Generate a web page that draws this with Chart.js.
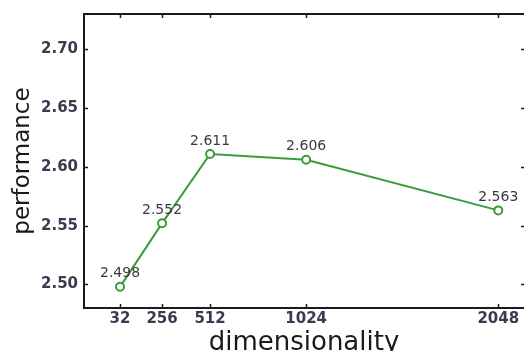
<!DOCTYPE html>
<html>
<head>
<meta charset="utf-8">
<script src="https://cdn.jsdelivr.net/npm/chart.js@4"></script>
<style>
html,body{margin:0;padding:0;background:#fff;}
#wrap{width:524px;height:351px;position:relative;}
</style>
</head>
<body>
<div id="wrap"><canvas id="c" width="524" height="351"></canvas></div>
<script>
const dims = [32, 256, 512, 1024, 2048];
const performance = [2.498, 2.552, 2.611, 2.606, 2.563];
const xTicks = [32, 256, 512, 1024, 2048];
const yTicks = [2.50, 2.55, 2.60, 2.65, 2.70];

const points = dims.map((d, i) => ({x: d, y: performance[i]}));

const frameAndTicks = {
  id: 'frameAndTicks',
  afterDraw(chart) {
    const ctx = chart.ctx;
    const a = chart.chartArea;
    const xs = chart.scales.x, ys = chart.scales.y;
    ctx.save();
    ctx.strokeStyle = '#1a1a1a';
    ctx.lineWidth = 2;
    ctx.beginPath();
    ctx.moveTo(a.right + 2, a.top);
    ctx.lineTo(a.left, a.top);
    ctx.lineTo(a.left, a.bottom);
    ctx.lineTo(a.right + 2, a.bottom);
    ctx.stroke();
    ctx.lineWidth = 1.5;
    ctx.beginPath();
    xTicks.forEach(v => {
      const px = Math.round(xs.getPixelForValue(v)) + 0.5;
      ctx.moveTo(px, a.bottom); ctx.lineTo(px, a.bottom - 4);
      ctx.moveTo(px, a.top); ctx.lineTo(px, a.top + 4);
    });
    yTicks.forEach(v => {
      const py = Math.round(ys.getPixelForValue(v)) + 0.5;
      ctx.moveTo(a.left, py); ctx.lineTo(a.left + 4, py);
      ctx.moveTo(a.right, py); ctx.lineTo(a.right - 3, py);
    });
    ctx.stroke();
    ctx.restore();
  }
};

const pointLabels = {
  id: 'pointLabels',
  afterDatasetsDraw(chart) {
    const ctx = chart.ctx;
    const meta = chart.getDatasetMeta(0);
    ctx.save();
    ctx.font = '14px "DejaVu Sans"';
    ctx.fillStyle = '#3a3a44';
    ctx.textAlign = 'center';
    ctx.textBaseline = 'bottom';
    meta.data.forEach((el, i) => {
      ctx.fillText(performance[i].toFixed(3), el.x, el.y - 6);
    });
    ctx.restore();
  }
};

new Chart(document.getElementById('c'), {
  type: 'line',
  data: {
    datasets: [{
      data: points,
      borderColor: '#3a9b3a',
      borderWidth: 2,
      pointRadius: 4,
      pointBorderWidth: 2,
      pointBackgroundColor: '#ffffff',
      pointBorderColor: '#3a9b3a',
      tension: 0,
      fill: false
    }]
  },
  options: {
    responsive: false,
    animation: false,
    devicePixelRatio: 1,
    layout: {autoPadding: false, padding: {left: 0, top: 14, right: 0, bottom: 0}},
    plugins: {legend: {display: false}, tooltip: {enabled: false}},
    scales: {
      x: {
        type: 'linear',
        min: -160,
        max: 2185,
        afterBuildTicks(s) { s.ticks = xTicks.map(v => ({value: v})); },
        afterFit(s) { s.height = 43; s.paddingLeft = 0; s.paddingRight = 0; },
        grid: {display: false, drawTicks: false},
        border: {display: false},
        ticks: {
          padding: 2,
          color: '#3b3b4f',
          font: {family: 'DejaVu Sans', size: 15, weight: 'bold'},
          maxRotation: 0,
          callback: v => String(v)
        },
        title: {
          display: true,
          text: 'dimensionality',
          color: '#1a1a1a',
          font: {family: 'DejaVu Sans', size: 26, lineHeight: 1},
          padding: {top: 0, bottom: -5}
        }
      },
      y: {
        min: 2.48,
        max: 2.73,
        afterBuildTicks(s) { s.ticks = yTicks.map(v => ({value: v})); },
        afterFit(s) { s.width = 84; s.paddingTop = 0; s.paddingBottom = 0; },
        grid: {display: false, drawTicks: false},
        border: {display: false},
        ticks: {
          padding: 6,
          color: '#3b3b4f',
          font: {family: 'DejaVu Sans', size: 15, weight: 'bold'},
          callback: v => Number(v).toFixed(2)
        },
        title: {
          display: true,
          text: 'performance',
          color: '#1a1a1a',
          font: {family: 'DejaVu Sans', size: 23, lineHeight: 1},
          padding: {top: 12, bottom: 0}
        }
      }
    }
  },
  plugins: [frameAndTicks, pointLabels]
});
</script>
</body>
</html>
